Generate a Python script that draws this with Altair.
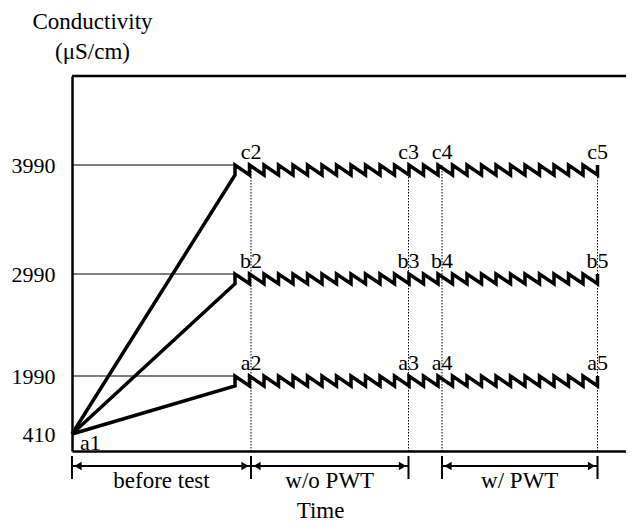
import altair as alt
import pandas as pd

FONT = "Liberation Serif"

# ---- values ----
y_ticks = [410, 1990, 2990, 3990]
start_value = 410
level_values = [1990, 2990, 3990]
level_prefix = ["a", "b", "c"]
level_low = [1718, 2895, 3898]          # lower edge of each zigzag

t_rise = 163                            # end of the initial rise
t_points = [179, 336.5, 370, 525.5]     # points 2, 3, 4, 5
point_suffix = ["2", "3", "4", "5"]
tooth_t = [163, 177.5, 192, 206.5, 221, 235.5, 250, 264.5, 279, 293.5, 308,
           322.5, 337, 351.5, 366, 380.5, 395, 409.5, 424, 438.5, 453, 467.5,
           482, 496.5, 511, 525.5]

phase_names = ["before test", "w/o PWT", "w/ PWT"]
phase_start = [0, 179, 370]
phase_end = [179, 336.5, 525.5]

# schematic (piecewise) vertical scale
y_domain = [0, 410, 1990, 2990, 3990, 5000]
y_range = [375, 358, 300, 198, 89, 0]

W, H = 554, 375
x_domain = [0, W]

# ---- tables ----
line_rows = []
for name, top, low in zip(level_prefix, level_values, level_low):
    rows = [(0, start_value)]
    for tt in tooth_t:
        rows.append((tt, low))
        rows.append((tt, top))
    for i, (t, v) in enumerate(rows):
        line_rows.append({"s": name, "i": i, "t": t, "v": v})
lines_df = pd.DataFrame(line_rows)

hline_df = pd.DataFrame({"t": [0] * 3, "t2": [t_rise] * 3, "v": level_values})
vline_df = pd.DataFrame({"t": t_points, "v": [max(level_values)] * 4, "v2": [0] * 4})

lab_rows = []
for name, top in zip(level_prefix, level_values):
    for t, suf in zip(t_points, point_suffix):
        lab_rows.append({"t": t, "v": top, "label": name + suf})
lab_df = pd.DataFrame(lab_rows)
a1_df = pd.DataFrame({"t": [0], "v": [start_value], "label": ["a1"]})

phase_df = pd.DataFrame({"name": phase_names, "t": phase_start, "t2": phase_end})
bars_df = pd.DataFrame({"t": sorted(set(phase_start + phase_end))})

# ---- scales / axes ----
yscale = alt.Scale(domain=y_domain, range=y_range, nice=False, zero=False)
xscale = alt.Scale(domain=x_domain, nice=False, zero=False)

yaxis = alt.Axis(values=y_ticks, format="d", title=["Conductivity", "(μS/cm)"], titleAngle=0,
                 titleX=20, titleY=-48, titleAlign="center", titleBaseline="alphabetic",
                 titleFont=FONT, titleFontSize=23, titleFontWeight="normal",
                 titleLineHeight=30, titleColor="black",
                 labelFont=FONT, labelFontSize=22, labelColor="black", labelPadding=17,
                 ticks=False, domainColor="black", domainWidth=2.5, grid=False)
xaxis = alt.Axis(labels=False, ticks=False, domainColor="black", domainWidth=2.5,
                 grid=False, title="Time", titleX=248, titleY=66, titleAlign="center",
                 titleBaseline="alphabetic", titleFont=FONT, titleFontSize=23,
                 titleFontWeight="normal", titleColor="black")

X = alt.X("t:Q", scale=xscale, axis=xaxis)
Y = alt.Y("v:Q", scale=yscale, axis=yaxis)

lines = alt.Chart(lines_df).mark_line(color="black", strokeWidth=3.5).encode(
    x=X, y=Y, detail="s:N", order="i:Q")

hlines = alt.Chart(hline_df).mark_rule(color="black", strokeWidth=1).encode(
    x=X, x2="t2:Q", y=Y)

vlines = alt.Chart(vline_df).mark_rule(color="black", strokeWidth=1, strokeDash=[1.5, 1.5]).encode(
    x=X, y=Y, y2="v2:Q")

labels = alt.Chart(lab_df).mark_text(font=FONT, fontSize=22, color="black",
                                      baseline="alphabetic", dy=-6).encode(
    x=X, y=Y, text="label:N")
a1 = alt.Chart(a1_df).mark_text(font=FONT, fontSize=22, color="black", align="left",
                                baseline="alphabetic", dx=8, dy=16).encode(
    x=X, y=Y, text="label:N")

top_border = alt.Chart(a1_df).mark_rule(color="black", strokeWidth=2.5).encode(
    x=alt.value(0), x2=alt.value(W), y=alt.value(0))

bars = alt.Chart(bars_df).mark_rule(color="black", strokeWidth=2).encode(
    x=X, y=alt.value(380), y2=alt.value(403))
spans = alt.Chart(phase_df).mark_rule(color="black", strokeWidth=2).encode(
    x=X, x2="t2:Q", y=alt.value(390))
lheads = alt.Chart(phase_df).mark_point(shape="triangle-left", filled=True, color="black",
                                        size=70, opacity=1, xOffset=6).encode(
    x=X, y=alt.value(390))
rheads = alt.Chart(phase_df).mark_point(shape="triangle-right", filled=True, color="black",
                                        size=70, opacity=1, xOffset=-6).encode(
    x=alt.X("t2:Q", scale=xscale, axis=xaxis), y=alt.value(390))
phase_text = alt.Chart(phase_df).transform_calculate(mid="(datum.t + datum.t2) / 2").mark_text(
    font=FONT, fontSize=23, color="black", baseline="alphabetic").encode(
    x=alt.X("mid:Q", scale=xscale, axis=xaxis), y=alt.value(412), text="name:N")

chart = alt.layer(lines, hlines, vlines, labels, a1, top_border, bars, spans,
                  lheads, rheads, phase_text).properties(
    width=W, height=H,
    padding={"left": 64, "top": 68, "right": 0, "bottom": 72},
    autosize=alt.AutoSizeParams(type="none"),
    background="white",
).configure_view(strokeWidth=0)

chart.save("out.html", embed_options={"renderer": "svg", "actions": False})
